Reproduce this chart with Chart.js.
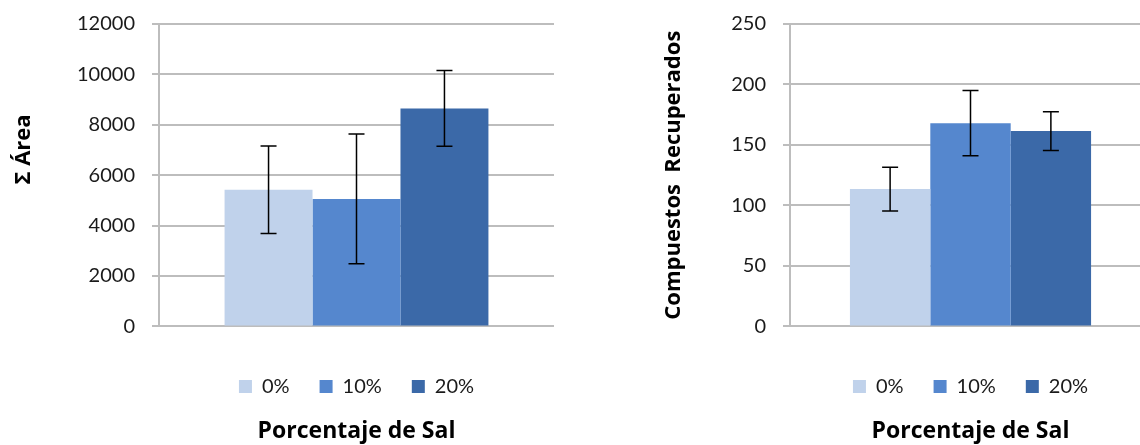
<!DOCTYPE html>
<html>
<head>
<meta charset="utf-8">
<title>Porcentaje de Sal</title>
<script src="https://cdn.jsdelivr.net/npm/chart.js"></script>
<style>
  body { margin: 0; width: 1140px; height: 445px; overflow: hidden; background: #fff; }
  .box { position: absolute; top: 0; height: 445px; }
</style>
</head>
<body>
<div class="box" style="left:0;width:570px;"><canvas id="areaChart" width="570" height="445"></canvas></div>
<div class="box" style="left:570px;width:600px;"><canvas id="compChart" width="600" height="445"></canvas></div>

<script>
  // values
  const salts = ['0%', '10%', '20%'];
  const saltColors = ['#c0d2eb', '#5587ce', '#3b69a8'];

  const areaMeans = [5420, 5060, 8650];
  const areaErrors = [1735, 2570, 1500];

  const compMeans = [113.5, 168, 161.5];
  const compErrors = [18, 27, 16];

  // simple error bar drawing (Chart.js has none built in)
  const errorBars = {
    id: 'errorBars',
    afterDatasetsDraw(chart) {
      const ctx = chart.ctx;
      const yScale = chart.scales.y;
      ctx.save();
      ctx.strokeStyle = '#000';
      ctx.lineWidth = 1.5;
      chart.data.datasets.forEach((ds, i) => {
        const meta = chart.getDatasetMeta(i);
        if (meta.hidden) return;
        meta.data.forEach((bar, j) => {
          const v = ds.data[j], e = ds.errors[j];
          const top = yScale.getPixelForValue(v + e);
          const bottom = yScale.getPixelForValue(v - e);
          const x = bar.x, cap = 8;
          ctx.beginPath();
          ctx.moveTo(x, top); ctx.lineTo(x, bottom);
          ctx.moveTo(x - cap, top); ctx.lineTo(x + cap, top);
          ctx.moveTo(x - cap, bottom); ctx.lineTo(x + cap, bottom);
          ctx.stroke();
        });
      });
      ctx.restore();
    }
  };

  function makeChart(id, means, errors, yMax, step, yTitle, axisX, titlePad, rightPad) {
    const datasets = salts.map((s, i) => ({
      label: s,
      data: [means[i]],
      errors: [errors[i]],
      backgroundColor: saltColors[i],
      borderWidth: 0,
      barPercentage: 1,
      categoryPercentage: 0.668
    }));

    return new Chart(document.getElementById(id), {
      type: 'bar',
      data: { labels: [''], datasets: datasets },
      plugins: [errorBars],
      options: {
        responsive: false,
        animation: false,
        layout: { padding: { top: 24, right: rightPad, bottom: 0, left: 0 } },
        scales: {
          x: {
            ticks: { display: false },
            grid: { display: false },
            border: { display: false },
            afterFit: s => { s.height = 20; }
          },
          y: {
            min: 0,
            max: yMax,
            ticks: {
              stepSize: step,
              padding: 17,
              color: '#1a1a1a',
              font: { family: 'Lato', size: 20 },
              callback: v => String(v)
            },
            grid: { color: '#bdbdbd', lineWidth: 2, tickLength: 7 },
            border: { color: '#bdbdbd', width: 2 },
            title: {
              display: true,
              text: yTitle,
              color: '#000',
              padding: { top: titlePad, bottom: 0 },
              font: { family: 'Open Sans', size: 22, weight: 'bold' }
            },
            afterFit: s => { s.width = axisX; s.paddingTop = 0; }
          }
        },
        plugins: {
          legend: {
            position: 'bottom',
            fullSize: false,
            labels: {
              boxWidth: 13,
              boxHeight: 13,
              padding: 30,
              color: '#1a1a1a',
              font: { family: 'Lato', size: 20 }
            }
          },
          title: {
            display: true,
            position: 'bottom',
            fullSize: false,
            text: 'Porcentaje de Sal',
            color: '#000',
            padding: { top: 11, bottom: 0 },
            font: { family: 'Open Sans', size: 23, weight: 'bold' }
          },
          tooltip: { enabled: false }
        }
      }
    });
  }

  makeChart('areaChart', areaMeans, areaErrors, 12000, 2000,
    '         Σ Área', 159, 11, 16);
  makeChart('compChart', compMeans, compErrors, 250, 50,
    'Compuestos  Recuperados', 220, 91, 19);
</script>
</body>
</html>
